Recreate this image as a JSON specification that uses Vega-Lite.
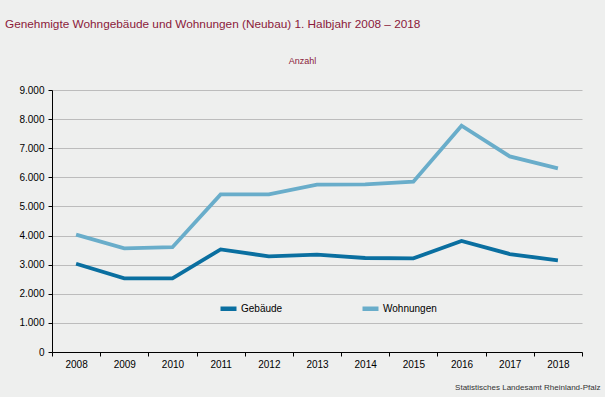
{
  "$schema": "https://vega.github.io/schema/vega-lite/v6.json",
  "width": 530,
  "height": 262,
  "autosize": {"type": "none"},
  "padding": {"left": 52, "top": 90, "right": 23, "bottom": 45},
  "background": "#eeefee",
  "title": {
    "text": "Genehmigte Wohngebäude und Wohnungen (Neubau) 1. Halbjahr 2008 – 2018",
    "anchor": "start",
    "frame": "group",
    "dx": -47,
    "offset": 25,
    "font": "Liberation Sans",
    "fontSize": 11.8,
    "fontWeight": "normal",
    "color": "#8b1a3a"
  },
  "config": {
    "view": {"stroke": null},
    "font": "Liberation Sans"
  },
  "data": {
    "values": [
      {"Jahr": "2008", "Reihe": "Gebäude", "Anzahl": 3033},
      {"Jahr": "2009", "Reihe": "Gebäude", "Anzahl": 2528},
      {"Jahr": "2010", "Reihe": "Gebäude", "Anzahl": 2530},
      {"Jahr": "2011", "Reihe": "Gebäude", "Anzahl": 3525},
      {"Jahr": "2012", "Reihe": "Gebäude", "Anzahl": 3285},
      {"Jahr": "2013", "Reihe": "Gebäude", "Anzahl": 3342},
      {"Jahr": "2014", "Reihe": "Gebäude", "Anzahl": 3229},
      {"Jahr": "2015", "Reihe": "Gebäude", "Anzahl": 3217},
      {"Jahr": "2016", "Reihe": "Gebäude", "Anzahl": 3813},
      {"Jahr": "2017", "Reihe": "Gebäude", "Anzahl": 3366},
      {"Jahr": "2018", "Reihe": "Gebäude", "Anzahl": 3147},
      {"Jahr": "2008", "Reihe": "Wohnungen", "Anzahl": 4030},
      {"Jahr": "2009", "Reihe": "Wohnungen", "Anzahl": 3560},
      {"Jahr": "2010", "Reihe": "Wohnungen", "Anzahl": 3600},
      {"Jahr": "2011", "Reihe": "Wohnungen", "Anzahl": 5414},
      {"Jahr": "2012", "Reihe": "Wohnungen", "Anzahl": 5414},
      {"Jahr": "2013", "Reihe": "Wohnungen", "Anzahl": 5747},
      {"Jahr": "2014", "Reihe": "Wohnungen", "Anzahl": 5757},
      {"Jahr": "2015", "Reihe": "Wohnungen", "Anzahl": 5850},
      {"Jahr": "2016", "Reihe": "Wohnungen", "Anzahl": 7774},
      {"Jahr": "2017", "Reihe": "Wohnungen", "Anzahl": 6719},
      {"Jahr": "2018", "Reihe": "Wohnungen", "Anzahl": 6307}
    ]
  },
  "mark": {"type": "line", "strokeWidth": 3.8, "strokeCap": "butt", "strokeJoin": "miter"},
  "encoding": {
    "x": {
      "field": "Jahr",
      "type": "ordinal",
      "bandPosition": 0.5,
      "scale": {"type": "band", "paddingInner": 0, "paddingOuter": 0},
      "axis": {
        "title": "Statistisches Landesamt Rheinland-Pfalz",
        "titleFont": "Liberation Sans",
        "titleFontSize": 8,
        "titleFontWeight": "normal",
        "titleColor": "#333333",
        "titleAnchor": "end",
        "titleAlign": "right",
        "titleBaseline": "middle",
        "titleX": 548,
        "titleY": 35,
        "labelAngle": 0,
        "labelFontSize": 10,
        "labelColor": "#000000",
        "labelPadding": 3,
        "tickBand": "extent",
        "tickSize": 4,
        "tickColor": "#000000",
        "domainColor": "#000000",
        "grid": false
      }
    },
    "y": {
      "field": "Anzahl",
      "type": "quantitative",
      "scale": {"domain": [0, 9000], "nice": false},
      "axis": {
        "title": "Anzahl",
        "titleAngle": 0,
        "titleAlign": "center",
        "titleBaseline": "middle",
        "titleX": 250,
        "titleY": -30,
        "titleFontSize": 9,
        "titleFontWeight": "normal",
        "titleColor": "#8b1a3a",
        "values": [0, 1000, 2000, 3000, 4000, 5000, 6000, 7000, 8000, 9000],
        "labelExpr": "replace(format(datum.value, ','), ',', '.')",
        "labelFontSize": 10,
        "labelColor": "#000000",
        "labelPadding": 4,
        "tickSize": 4,
        "tickColor": "#000000",
        "domainColor": "#000000",
        "gridColor": "#bcbcbc",
        "gridWidth": 1.2
      }
    },
    "color": {
      "field": "Reihe",
      "type": "nominal",
      "scale": {"domain": ["Gebäude", "Wohnungen"], "range": ["#0a6fa0", "#69adca"]},
      "legend": {
        "title": null,
        "orient": "none",
        "direction": "horizontal",
        "legendX": 166,
        "legendY": 208,
        "symbolType": "stroke",
        "symbolSize": 256,
        "symbolStrokeWidth": 4.5,
        "labelFontSize": 10,
        "labelColor": "#000000",
        "labelOffset": 2,
        "columnPadding": 70
      }
    }
  }
}
